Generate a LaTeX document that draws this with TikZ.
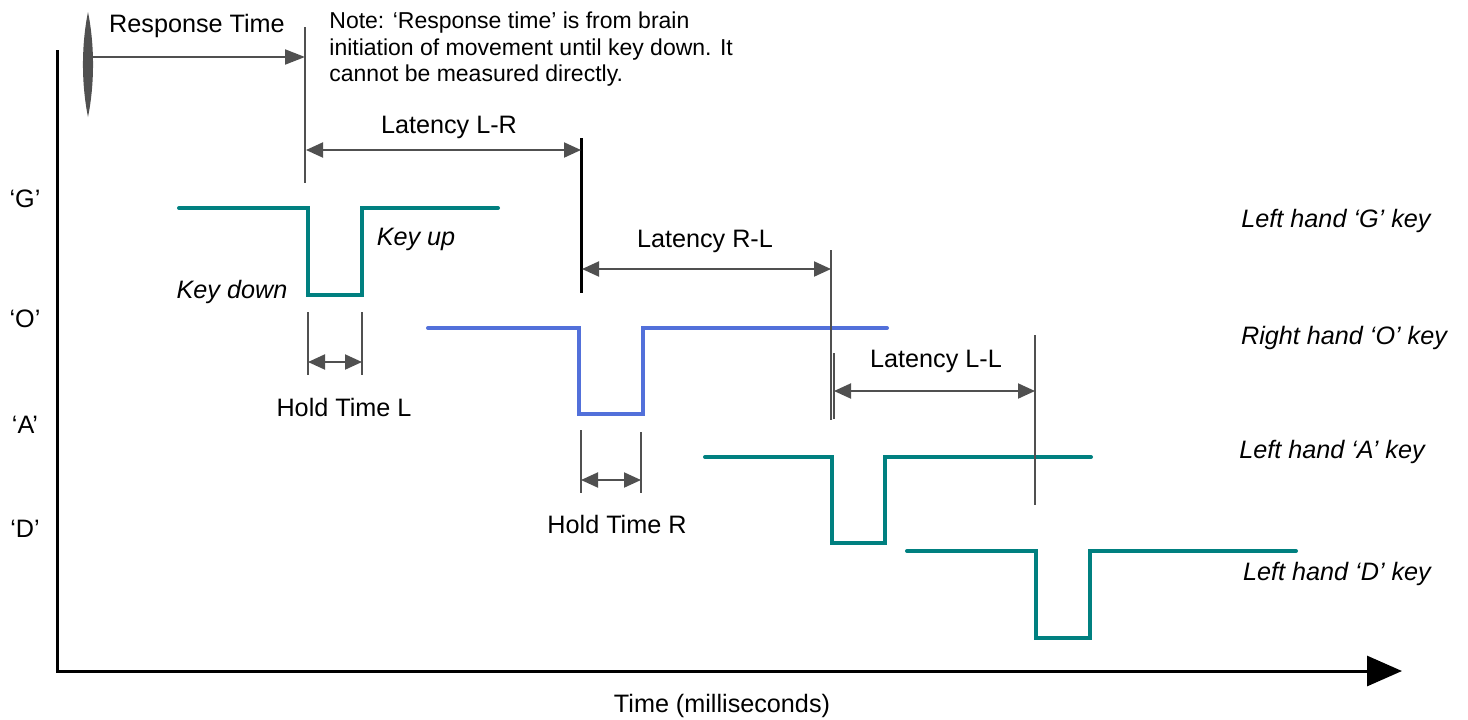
\documentclass[tikz,border=0pt]{standalone}
\usepackage{fontspec}
\setmainfont{Liberation Sans}
\usetikzlibrary{arrows.meta}
\definecolor{tealk}{RGB}{0,128,128}
\definecolor{bluek}{RGB}{82,112,218}
\definecolor{dimgray}{RGB}{80,80,80}
\begin{document}
\begin{tikzpicture}[x=0.5pt,y=-0.5pt,
  lbl/.style={font=\fontsize{12.6}{15}\selectfont, inner sep=0, anchor=base},
  ilbl/.style={font=\fontsize{12.6}{15}\selectfont\itshape, inner sep=0, anchor=base},
  notetxt/.style={font=\fontsize{11.5}{13}\selectfont, inner sep=0, anchor=base west},
  sig/.style={line width=2pt, line cap=round, line join=miter},
  tickline/.style={draw=dimgray, line width=1pt},
  blkline/.style={draw=black, line width=1.5pt},
  dimarrow/.style={draw=dimgray, line width=1pt,
    {Triangle[length=8.5pt,width=7.5pt]}-{Triangle[length=8.5pt,width=7.5pt]}},
  axisline/.style={draw=black, line width=1.5pt}]
\useasboundingbox (0,0) rectangle (1468,719);

% axes
\coordinate (ytop) at (57,50);
\coordinate (orig) at (57,671);
\coordinate (xend) at (1402,671);
\draw[axisline, -{Triangle[length=17.5pt,width=15pt]}] (ytop) -- (orig) -- (xend);

% signals
\draw[sig, tealk] (179,208) -- (308,208) -- (308,295) -- (362,295) -- (362,208) -- (498,208);
\draw[sig, bluek] (428,328) -- (579,328) -- (579,414) -- (643,414) -- (643,328) -- (887,328);
\draw[sig, tealk] (705,457) -- (832,457) -- (832,543) -- (885,543) -- (885,457) -- (1091,457);
\draw[sig, tealk] (907,551) -- (1036,551) -- (1036,638) -- (1090,638) -- (1090,551) -- (1296,551);

% response time start marker (lens)
\coordinate (lenstop) at (88,12);
\coordinate (lensbot) at (88,117);
\fill[dimgray] (lenstop) .. controls (94.7,45) and (94.7,84) .. (lensbot)
  .. controls (81.3,84) and (81.3,45) .. (lenstop) -- cycle;
\coordinate (rs) at (88,57);
\coordinate (rt) at (305,57);
\draw[draw=dimgray, line width=1pt, -{Triangle[length=10pt,width=7.5pt]}] (rs) -- (rt);
\coordinate (v1a) at (305,27); \coordinate (v1b) at (305,183);
\draw[tickline] (v1a) -- (v1b);

% latency L-R
\coordinate (v2a) at (581,138); \coordinate (v2b) at (581,293);
\draw[blkline] (v2a) -- (v2b);
\coordinate (lr1) at (306,150); \coordinate (lr2) at (581,150);
\draw[dimarrow] (lr1) -- (lr2);

% latency R-L
\coordinate (v3a) at (831,250); \coordinate (v3b) at (831,420);
\draw[tickline] (v3a) -- (v3b);
\coordinate (rl1) at (582,269); \coordinate (rl2) at (831,269);
\draw[dimarrow] (rl1) -- (rl2);

% latency L-L
\coordinate (v4a) at (834,353); \coordinate (v4b) at (834,419);
\draw[tickline] (v4a) -- (v4b);
\coordinate (v5a) at (1035,335); \coordinate (v5b) at (1035,505);
\draw[tickline] (v5a) -- (v5b);
\coordinate (ll1) at (834,391); \coordinate (ll2) at (1035,391);
\draw[dimarrow] (ll1) -- (ll2);

% hold time L
\coordinate (h1a) at (308,312); \coordinate (h1b) at (308,375);
\coordinate (h2a) at (362,312); \coordinate (h2b) at (362,375);
\draw[tickline] (h1a) -- (h1b);
\draw[tickline] (h2a) -- (h2b);
\coordinate (hl1) at (308,362); \coordinate (hl2) at (362,362);
\draw[dimarrow] (hl1) -- (hl2);

% hold time R
\coordinate (h3a) at (581,430); \coordinate (h3b) at (581,493);
\coordinate (h4a) at (641,432); \coordinate (h4b) at (641,493);
\draw[tickline] (h3a) -- (h3b);
\draw[tickline] (h4a) -- (h4b);
\coordinate (hr1) at (581,480); \coordinate (hr2) at (641,480);
\draw[dimarrow] (hr1) -- (hr2);

% texts
\node[lbl] (trt) at (197,32) {Response Time};
\node[notetxt] (n1) at (329,28) {Note: ‘Response time’ is from brain};
\node[notetxt] (n2) at (329,55) {initiation of movement until key down. It};
\node[notetxt] (n3) at (329,81) {cannot be measured directly.};
\node[lbl] (tlr) at (449,133) {Latency L-R};
\node[lbl] (trl) at (705,247) {Latency R-L};
\node[lbl] (tll) at (936,367) {Latency L-L};
\node[ilbl] (tku) at (416,245) {Key up};
\node[ilbl] (tkd) at (232,298) {Key down};
\node[lbl] (thl) at (344,416) {Hold Time L};
\node[lbl] (thr) at (617,533) {Hold Time R};
\node[lbl] (kg) at (25,207) {‘G’};
\node[lbl] (ko) at (25,327) {‘O’};
\node[lbl] (ka) at (25,433) {‘A’};
\node[lbl] (kd) at (25,537) {‘D’};
\node[ilbl] (rg) at (1336,227) {Left hand ‘G’ key};
\node[ilbl] (ro) at (1344,344) {Right hand ‘O’ key};
\node[ilbl] (ra) at (1332,458) {Left hand ‘A’ key};
\node[ilbl] (rd) at (1337,580) {Left hand ‘D’ key};
\node[lbl] (ttime) at (722,712) {Time (milliseconds)};
\end{tikzpicture}
\end{document}
